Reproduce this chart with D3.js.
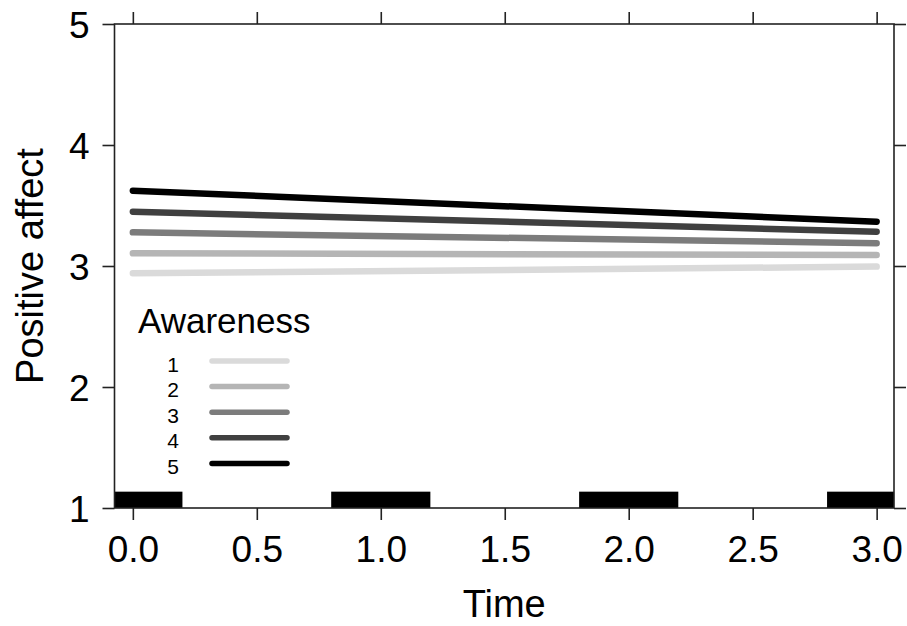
<!DOCTYPE html>
<html><head><meta charset="utf-8">
<script src="https://cdn.jsdelivr.net/npm/d3@7"></script>
<style>body{margin:0;background:#fff}text{font-family:"Liberation Sans",Arial,sans-serif}</style>
</head><body><svg id="c" width="907" height="626"></svg>
<script>
const times = [0, 3];
const awarenessLevels = ["1", "2", "3", "4", "5"];
const seriesValues = [
  [2.94, 2.995],
  [3.105, 3.09],
  [3.278, 3.188],
  [3.449, 3.283],
  [3.622, 3.366]
];
const seriesColors = ["#dadada", "#b5b5b5", "#7c7c7c", "#404040", "#000000"];
const xTicks = [0, 0.5, 1, 1.5, 2, 2.5, 3];
const yTicks = [1, 2, 3, 4, 5];
const barIntervals = [[-0.2, 0.2], [0.8, 1.2], [1.8, 2.2], [2.8, 3.2]];
const barTop = 1.135;

const L = 114.5, R = 894, T = 24, B = 508;
const svg = d3.select("#c");
const x = d3.scaleLinear().domain([-0.074, 3.07]).range([L, R]);
const y = d3.scaleLinear().domain([1, 5]).range([B, T]);

svg.append("defs").append("clipPath").attr("id","clip")
  .append("rect").attr("x", L).attr("y", T).attr("width", R-L).attr("height", B-T);

const g = svg.append("g").attr("clip-path","url(#clip)");
g.selectAll("rect.bar").data(barIntervals).enter().append("rect")
  .attr("x", d => x(d[0])).attr("width", d => x(d[1]) - x(d[0]))
  .attr("y", y(barTop)).attr("height", y(0.9) - y(barTop)).attr("fill", "#000");

const line = d3.line().x((d,i) => x(times[i])).y(d => y(d));
svg.selectAll("path.s").data(seriesValues).enter().append("path")
  .attr("d", d => line(d)).attr("fill","none")
  .attr("stroke", (d,i) => seriesColors[i]).attr("stroke-width", 6.5)
  .attr("stroke-linecap","round");

// axes
const fs = 37;
const axB = svg.append("g").attr("transform", `translate(0,${B})`)
  .call(d3.axisBottom(x).tickValues(xTicks).tickSize(12).tickPadding(14).tickFormat(d3.format(".1f")));
const axT = svg.append("g").attr("transform", `translate(0,${T})`)
  .call(d3.axisTop(x).tickValues(xTicks).tickSize(12).tickFormat(""));
const axL = svg.append("g").attr("transform", `translate(${L},0)`)
  .call(d3.axisLeft(y).tickValues(yTicks).tickSize(12).tickPadding(13).tickFormat(d3.format("d")));
const axR = svg.append("g").attr("transform", `translate(${R},0)`)
  .call(d3.axisRight(y).tickValues(yTicks).tickSize(12).tickFormat(""));
[axB, axT, axL, axR].forEach(a => {
  a.select(".domain").remove();
  a.selectAll("line").attr("stroke","#222").attr("stroke-width",1.6);
  a.selectAll("text").attr("font-size", fs).attr("fill","#000")
   .attr("font-family","'Liberation Sans',Arial,sans-serif");
});
axB.selectAll("text").attr("dy","0.75em");
axL.selectAll("text").attr("dy","0.36em");

svg.append("rect").attr("x", L).attr("y", T).attr("width", R-L).attr("height", B-T)
  .attr("fill","none").attr("stroke","#222").attr("stroke-width",1.6);

svg.append("text").attr("x", (L+R)/2 + 0).attr("y", 617).attr("text-anchor","middle")
  .attr("font-size", 38).text("Time");
svg.append("text").attr("transform", `translate(43,${(T+B)/2}) rotate(-90)`)
  .attr("text-anchor","middle").attr("font-size", 38).text("Positive affect");

// legend
svg.append("text").attr("x", 138).attr("y", 333).attr("font-size", 35).text("Awareness");
const lg = svg.append("g");
awarenessLevels.forEach((lab, i) => {
  const yy = 361 + i * 25.6;
  lg.append("line").attr("x1", 212).attr("x2", 287).attr("y1", yy).attr("y2", yy)
    .attr("stroke", seriesColors[i]).attr("stroke-width", 5.5).attr("stroke-linecap","round");
  lg.append("text").attr("x", 173).attr("y", yy + 3).attr("dy","0.36em").attr("text-anchor","middle")
    .attr("font-size", 21).text(lab);
});
</script></body></html>
